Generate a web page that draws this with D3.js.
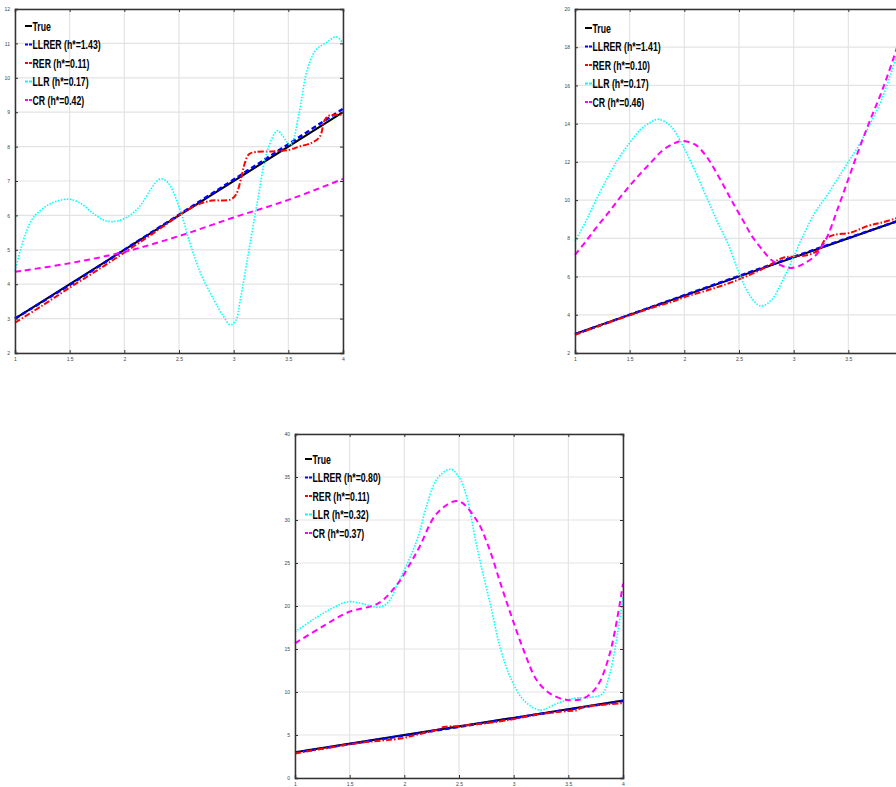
<!DOCTYPE html>
<html>
<head>
<meta charset="utf-8">
<script src="https://cdn.jsdelivr.net/npm/d3@7"></script>
<style>
  body { margin: 0; background: #fff; }
  svg { display: block; }
</style>
</head>
<body>
<svg id="chart" width="896" height="787"></svg>
<script>
// tick labels
const xTicks = [1, 1.5, 2, 2.5, 3, 3.5, 4];
const yTicksA = [2, 3, 4, 5, 6, 7, 8, 9, 10, 11, 12];
const yTicksB = [2, 4, 6, 8, 10, 12, 14, 16, 18, 20];
const yTicksC = [0, 5, 10, 15, 20, 25, 30, 35, 40];

const seriesNames = ["True", "LLRER", "RER", "LLR", "CR"];

// panel A (top left)
const hA = ["1.43", "0.11", "0.17", "0.42"];
const trueA = [[1, 3], [4, 9]];
const llrerA = [[1, 3.0], [1.5, 3.98], [2, 5.0], [2.5, 6.02], [3, 7.04], [3.5, 8.07], [4, 9.1]];
const rerA = [[1, 2.88], [1.25, 3.38], [1.5, 3.9], [1.75, 4.4], [2, 4.92], [2.25, 5.45], [2.4, 5.78],
  [2.5, 6.0], [2.6, 6.2], [2.7, 6.35], [2.8, 6.43], [2.97, 6.46], [3.02, 6.6], [3.07, 7.1], [3.1, 7.5],
  [3.14, 7.78], [3.2, 7.84], [3.35, 7.86], [3.5, 7.9], [3.6, 8.0], [3.72, 8.12], [3.79, 8.3],
  [3.83, 8.75], [3.87, 8.9], [4, 8.92]];
const llrA = [[1, 4.38], [1.05, 5.0], [1.1, 5.5], [1.15, 5.85], [1.2, 6.05], [1.3, 6.3], [1.4, 6.43],
  [1.5, 6.47], [1.6, 6.35], [1.7, 6.1], [1.8, 5.88], [1.87, 5.82], [1.95, 5.85], [2.05, 6.0], [2.15, 6.3],
  [2.25, 6.8], [2.33, 7.06], [2.4, 6.95], [2.5, 6.25], [2.6, 5.2], [2.7, 4.3], [2.82, 3.54], [2.9, 3.1],
  [2.97, 2.82], [3.02, 2.95], [3.06, 3.54], [3.14, 5.0], [3.22, 6.45], [3.31, 7.9], [3.4, 8.46],
  [3.45, 8.3], [3.52, 8.05], [3.6, 9.0], [3.67, 10.2], [3.75, 10.8], [3.85, 11.03], [3.94, 11.19], [4, 11.0]];
const crA = [[1, 4.36], [1.5, 4.61], [2, 4.94], [2.5, 5.4], [3, 5.94], [3.5, 6.45], [4, 7.06]];

// panel B (top right)
const hB = ["1.41", "0.10", "0.17", "0.46"];
const trueB = [[1, 3], [4, 9]];
const llrerB = [[1, 2.98], [1.5, 4.0], [2, 5.02], [2.5, 6.03], [3, 7.03], [3.5, 8.02], [4, 9.0]];
const rerB = [[1, 2.95], [1.25, 3.48], [1.5, 3.97], [1.75, 4.45], [1.9, 4.7], [2, 4.92], [2.25, 5.35],
  [2.5, 5.85], [2.75, 6.5], [2.9, 6.98], [3, 7.05], [3.13, 7.13], [3.23, 7.4], [3.29, 7.95], [3.37, 8.18],
  [3.52, 8.3], [3.68, 8.65], [3.8, 8.82], [3.94, 9.05], [4, 9.15]];
const llrB = [[1, 7.85], [1.1, 8.9], [1.2, 10.1], [1.3, 11.2], [1.4, 12.2], [1.5, 13.0], [1.6, 13.7],
  [1.7, 14.1], [1.76, 14.23], [1.85, 14.0], [1.9, 13.7], [2, 12.7], [2.1, 11.5], [2.2, 10.2], [2.3, 8.9],
  [2.4, 7.7], [2.5, 6.2], [2.6, 5.0], [2.7, 4.46], [2.8, 4.8], [2.9, 5.8], [3, 7.04], [3.1, 8.3],
  [3.2, 9.4], [3.3, 10.2], [3.4, 11.1], [3.5, 12.0], [3.6, 12.9], [3.7, 14.0], [3.8, 15.2], [3.9, 16.8], [4, 18.8]];
const crB = [[1, 7.13], [1.1, 7.85], [1.2, 8.6], [1.3, 9.3], [1.4, 10.05], [1.5, 10.75], [1.6, 11.4],
  [1.7, 12.0], [1.8, 12.6], [1.9, 12.95], [1.98, 13.1], [2.1, 12.9], [2.2, 12.3], [2.33, 11.06], [2.45, 9.8],
  [2.55, 8.8], [2.62, 8.1], [2.7, 7.5], [2.8, 6.85], [2.9, 6.55], [2.97, 6.45], [3.05, 6.55], [3.1, 6.7],
  [3.2, 7.1], [3.3, 8.0], [3.4, 9.5], [3.5, 11.1], [3.6, 12.7], [3.7, 14.2], [3.8, 15.6], [3.9, 17.2], [4, 19.0]];

// panel C (bottom)
const hC = ["0.80", "0.11", "0.32", "0.37"];
const trueC = [[1, 3], [4, 9]];
const llrerC = [[1, 2.95], [1.5, 3.95], [2, 4.95], [2.5, 5.95], [3, 6.95], [3.5, 7.95], [4, 8.95]];
const rerC = [[1, 2.85], [1.3, 3.5], [1.6, 4.1], [1.98, 4.62], [2.1, 5.0], [2.3, 5.6], [2.36, 5.92],
  [2.5, 6.05], [2.7, 6.3], [2.98, 6.8], [3.2, 7.35], [3.5, 7.8], [3.58, 7.9], [3.62, 8.2], [3.8, 8.5], [4, 8.7]];
const llrC = [[1, 17.0], [1.2, 18.7], [1.35, 19.8], [1.49, 20.5], [1.64, 20.2], [1.76, 19.85], [1.85, 20.4],
  [1.94, 22.6], [2.04, 25.3], [2.13, 28.2], [2.2, 31.5], [2.3, 34.8], [2.42, 35.9], [2.5, 35.0],
  [2.57, 32.7], [2.65, 27.7], [2.7, 24.8], [2.79, 20.0], [2.88, 15.0], [2.98, 11.4], [3.09, 9.07],
  [3.24, 7.9], [3.4, 8.68], [3.55, 9.26], [3.7, 9.38], [3.81, 9.77], [3.88, 12.17], [3.94, 16.0], [4, 21.0]];
const crC = [[1, 15.66], [1.25, 17.6], [1.49, 19.3], [1.76, 20.3], [1.94, 22.6], [2.07, 25.3], [2.14, 26.9],
  [2.3, 30.8], [2.49, 32.2], [2.66, 30.0], [2.77, 26.9], [2.88, 22.6], [2.98, 18.8], [3.09, 14.9],
  [3.21, 11.4], [3.33, 9.85], [3.49, 9.07], [3.64, 9.26], [3.76, 10.6], [3.88, 14.5], [4, 22.6]];

const styles = {
  True:  { color: "#000000", width: 2,   dash: null },
  LLRER: { color: "#0000ff", width: 2.5, dash: "5,3" },
  RER:   { color: "#ff0000", width: 2,   dash: "6,2,1.5,2" },
  LLR:   { color: "#00ffff", width: 1.6, dash: "1.5,1.5" },
  CR:    { color: "#ff00ff", width: 2,   dash: "6,4" }
};

const panels = [
  { left: 15, top: 9, yTicks: yTicksA, h: hA, legendTop: 17, data: [trueA, llrerA, rerA, llrA, crA] },
  { left: 575, top: 9, yTicks: yTicksB, h: hB, legendTop: 19, data: [trueB, llrerB, rerB, llrB, crB] },
  { left: 295, top: 434, yTicks: yTicksC, h: hC, legendTop: 25, data: [trueC, llrerC, rerC, llrC, crC] }
];
const plotW = 328, plotH = 344;
const pageW = 896;

const svg = d3.select("#chart");

function drawPanel(p) {
  const g = svg.append("g").attr("transform", `translate(${p.left},${p.top})`);
  const x = d3.scaleLinear().domain(d3.extent(xTicks)).range([0, plotW]);
  const y = d3.scaleLinear().domain(d3.extent(p.yTicks)).range([plotH, 0]);

  // grid
  g.append("g").selectAll("line").data(xTicks).join("line")
    .attr("x1", d => x(d)).attr("x2", d => x(d)).attr("y1", 0).attr("y2", plotH)
    .attr("stroke", "#e3e3e3").attr("stroke-width", 1.2);
  g.append("g").selectAll("line").data(p.yTicks).join("line")
    .attr("y1", d => y(d)).attr("y2", d => y(d)).attr("x1", 0).attr("x2", plotW)
    .attr("stroke", "#e3e3e3").attr("stroke-width", 1.2);

  // curves
  const line = d3.line().x(d => x(d[0])).y(d => y(d[1])).curve(d3.curveCatmullRom.alpha(0.5));
  p.data.forEach((d, i) => {
    const s = styles[seriesNames[i]];
    g.append("path").datum(d)
      .attr("d", line)
      .attr("fill", "none")
      .attr("stroke", s.color)
      .attr("stroke-width", s.width)
      .attr("stroke-dasharray", s.dash);
  });

  // axes, matlab box style with inward ticks
  const fmt = d3.format("");
  const axes = [
    { ax: d3.axisBottom(x).tickValues(xTicks).tickFormat(fmt).tickSize(-3).tickPadding(4), t: `translate(0,${plotH})`, bottom: true },
    { ax: d3.axisTop(x).tickValues(xTicks).tickFormat("").tickSize(-3), t: "translate(0,0)" },
    { ax: d3.axisLeft(y).tickValues(p.yTicks).tickFormat(fmt).tickSize(-3).tickPadding(5), t: "translate(0,0)" },
    { ax: d3.axisRight(y).tickValues(p.yTicks).tickFormat("").tickSize(-3), t: `translate(${plotW},0)` }
  ];
  axes.forEach(a => {
    const ag = g.append("g").attr("transform", a.t).call(a.ax);
    ag.select(".domain").attr("stroke", "#333").attr("stroke-width", 1.5);
    ag.selectAll(".tick line").attr("stroke", "#333");
    ag.selectAll("text").attr("font-size", "5px").attr("fill", "#444")
      .attr("font-family", "Liberation Sans, Arial, sans-serif");
    // the top-right panel runs off the page: drop x labels that would be cut
    if (a.bottom) ag.selectAll(".tick text").filter(d => p.left + x(d) > pageW - 3).remove();
  });

  // legend (bold face, squeezed horizontally like the original)
  const lg = g.append("g").attr("transform", `translate(0,${p.legendTop})`);
  seriesNames.forEach((name, i) => {
    const s = styles[name];
    const row = lg.append("g").attr("transform", `translate(0,${i * 18.5})`);
    row.append("line")
      .attr("x1", 10).attr("x2", 17).attr("y1", 0).attr("y2", 0)
      .attr("stroke", s.color).attr("stroke-width", 2)
      .attr("stroke-dasharray", name === "True" ? null : "3,1");
    row.append("text")
      .attr("transform", "translate(17.5,4.5) scale(0.7,1)")
      .attr("font-family", "Liberation Sans, Arial, sans-serif")
      .attr("font-weight", "bold")
      .attr("font-size", "12.5px")
      .attr("fill", "#000")
      .text(i === 0 ? name : `${name} (h*=${p.h[i - 1]})`);
  });
}

panels.forEach(drawPanel);
</script>
</body>
</html>
